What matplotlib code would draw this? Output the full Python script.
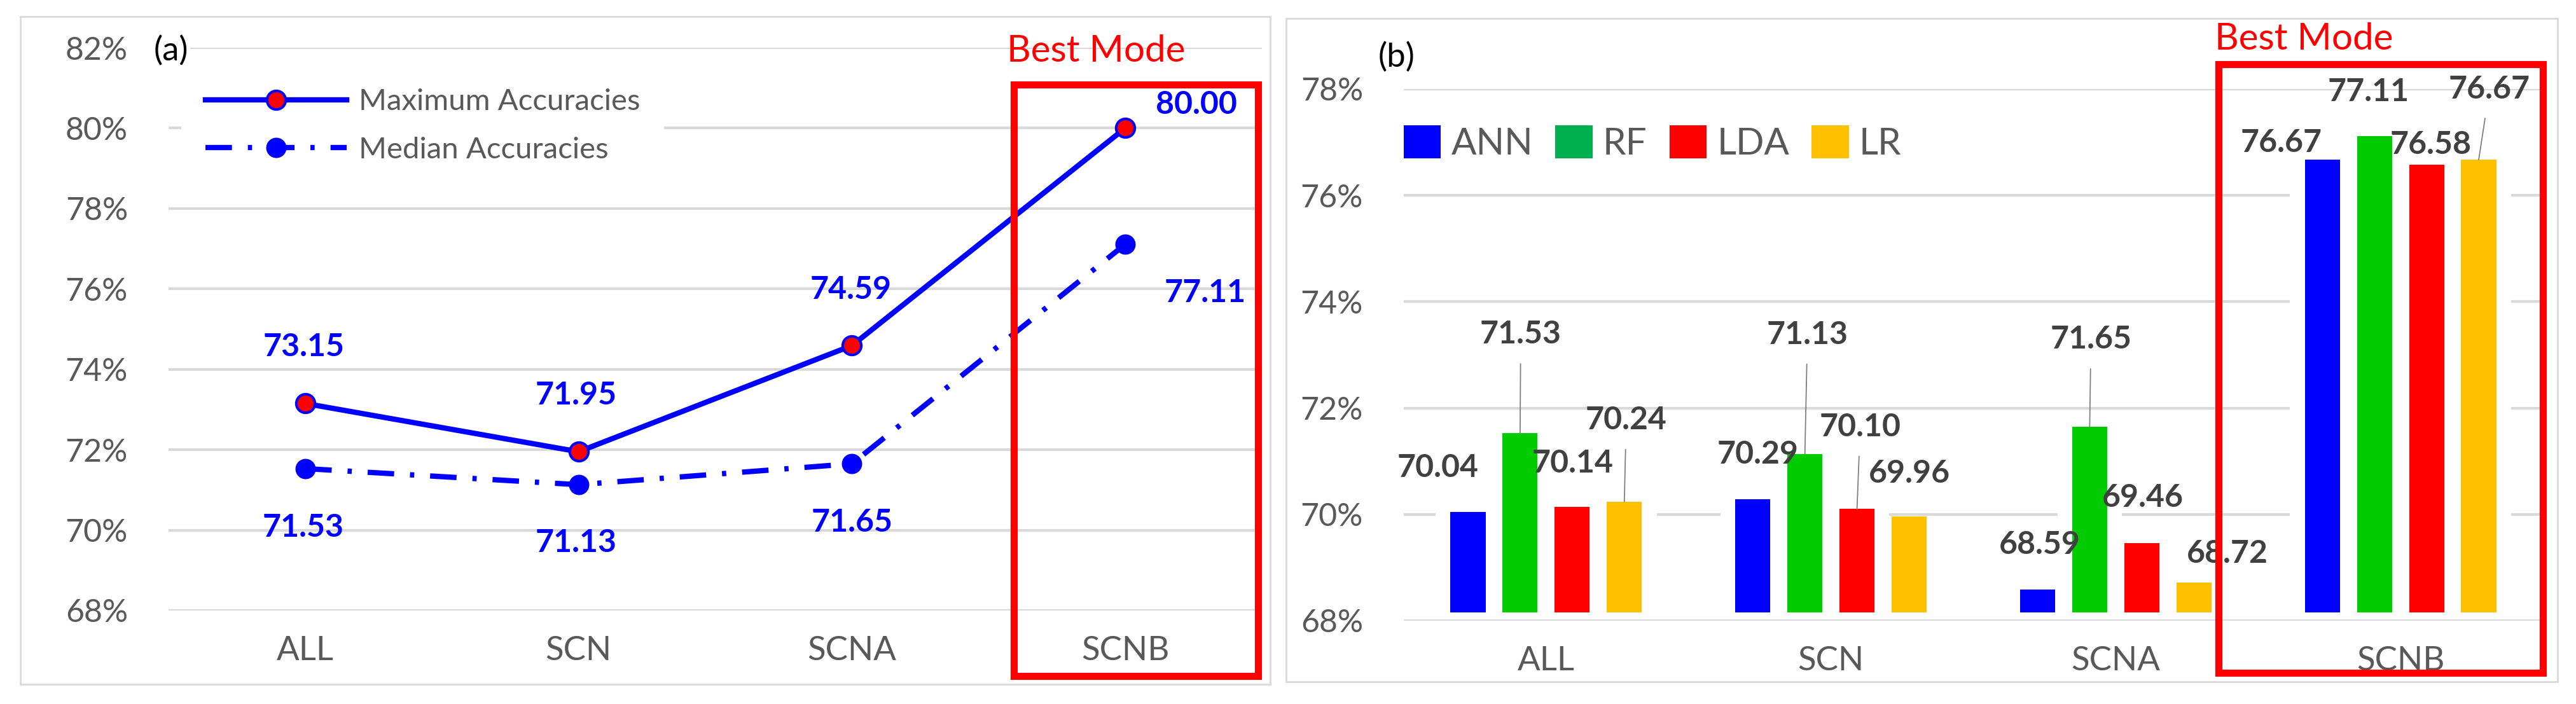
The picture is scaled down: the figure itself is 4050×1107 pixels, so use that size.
import numpy as np
import matplotlib.pyplot as plt
import matplotlib.transforms as mtransforms
from matplotlib.patches import Rectangle, Patch
from matplotlib.ticker import FuncFormatter

plt.rcParams['font.family'] = ['Lato', 'DejaVu Sans']

# ─────────────────────────────────────────
# DATA
# ─────────────────────────────────────────

MODES = ['ALL', 'SCN', 'SCNA', 'SCNB']

# panel (a)
MAX_ACC = [73.15, 71.95, 74.59, 80.00]
MEDIAN_ACC = [71.53, 71.13, 71.65, 77.11]
Y_TICKS_A = [68, 70, 72, 74, 76, 78, 80, 82]

# panel (b)
CLASSIFIERS = ['ANN', 'RF', 'LDA', 'LR']
ANN_ACC = [70.04, 70.29, 68.59, 76.67]
RF_ACC = [71.53, 71.13, 71.65, 77.11]
LDA_ACC = [70.14, 70.10, 69.46, 76.58]
LR_ACC = [70.24, 69.96, 68.72, 76.67]
Y_TICKS_B = [68, 70, 72, 74, 76, 78]

# ─────────────────────────────────────────
# STYLE
# ─────────────────────────────────────────

BLUE = '#0000ff'
RED = '#ff0000'
BAR_COLORS = ['#0000ff', '#00cc00', '#ff0000', '#ffc000']
LEGEND_COLORS = ['#0000ff', '#00b050', '#ff0000', '#ffc000']
GRID = '#d9d9d9'
TICK_GRAY = '#595959'
LABEL_GRAY = '#404040'

W, H = 4050, 1107

# label offsets in pixels (dx, dy up)
MAX_OFFSETS = [(-2, 89), (-4, 89), (-2, 88), (112, 37)]
MED_OFFSETS = [(-3, -93), (-4, -91), (0, -92), (126, -76)]

BAR_OFFSETS = [
    [(-47, 70), (8, 70), (3, 70), (-65, 27)],      # ANN
    [(1, 155), (4, 188), (2, 137), (-9, 70)],      # RF
    [(1, 69), (5, 129), (2, 71), (7, 31)],         # LDA
    [(3, 128), (0, 68), (53, 45), (17, 111)],      # LR
]
LEADERS = [
    [False, False, False, False],
    [True, True, True, False],
    [False, True, False, False],
    [True, False, False, True],
]

BAR_BASE = 68.15
PITCH = 0.183
BAR_W = 0.123
BACK_W = 0.227


def fig_rect(x0, y0, x1, y1):
    """pixel box (top-left origin) -> figure fraction rect"""
    return [x0 / W, 1 - y1 / H, (x1 - x0) / W, (y1 - y0) / H]


def style_axes(ax, yticks):
    ax.set_xlim(-0.5, 3.5)
    ax.set_yticks(yticks)
    ax.yaxis.set_major_formatter(FuncFormatter(lambda v, p: f'{v:.0f}%'))
    ax.set_xticks(np.arange(len(MODES)))
    ax.set_xticklabels(MODES)
    ax.grid(axis='y', color=GRID, linewidth=3)
    ax.set_axisbelow(True)
    for s in ax.spines.values():
        s.set_visible(False)
    ax.tick_params(axis='y', length=0, pad=46, labelsize=36, labelcolor=TICK_GRAY)
    ax.tick_params(axis='x', length=0, pad=29, labelsize=38, labelcolor=TICK_GRAY)


def best_box(ax, x0, x1, y0, y1, tx, ty):
    trans = mtransforms.blended_transform_factory(ax.transData, ax.transAxes)
    ax.add_patch(Rectangle((x0, y0), x1 - x0, y1 - y0, transform=trans, fill=False,
                           edgecolor=RED, linewidth=8, clip_on=False, zorder=6,
                           joinstyle='miter'))
    ax.text(tx, ty, 'Best Mode', transform=trans, color=RED, fontsize=42,
            ha='left', va='center')


fig = plt.figure(figsize=(W / 100, H / 100), dpi=100)

# panel frames
for box in [(32, 26, 1997, 1076), (2022, 29, 4021, 1072)]:
    fig.add_artist(Rectangle(fig_rect(*box)[:2], *fig_rect(*box)[2:],
                             transform=fig.transFigure, fill=False,
                             edgecolor=GRID, linewidth=2))

# ─────────────────────────────────────────
# PANEL (a)
# ─────────────────────────────────────────

ax_a = fig.add_axes(fig_rect(265, 75, 1984, 960))
x = np.arange(len(MODES))
ax_a.plot(x, MAX_ACC, color=BLUE, linewidth=6, marker='o', markersize=21,
          markerfacecolor=RED, markeredgecolor=BLUE, markeredgewidth=3,
          label='Maximum Accuracies', zorder=4)
ax_a.plot(x, MEDIAN_ACC, color=BLUE, linewidth=6, linestyle=(0, (5, 3, 0.8, 3)),
          marker='o', markersize=22, markerfacecolor=BLUE, markeredgecolor=BLUE,
          label='Median Accuracies', zorder=3)
ax_a.set_ylim(68, 82)
style_axes(ax_a, Y_TICKS_A)

for xi, v, off in zip(x, MAX_ACC, MAX_OFFSETS):
    ax_a.annotate(f'{v:.2f}', (xi, v), xytext=off, textcoords='offset pixels',
                  ha='center', va='center', fontsize=36, fontweight='bold', color=BLUE)
for xi, v, off in zip(x, MEDIAN_ACC, MED_OFFSETS):
    ax_a.annotate(f'{v:.2f}', (xi, v), xytext=off, textcoords='offset pixels',
                  ha='center', va='center', fontsize=36, fontweight='bold', color=BLUE)

leg = ax_a.legend(loc='center left', bbox_to_anchor=(0.0116, 0.861), borderaxespad=0,
                  fontsize=34, handlelength=4.7, handletextpad=0.4, labelspacing=0.7,
                  borderpad=0.8, frameon=True, facecolor='white', edgecolor='none',
                  framealpha=1, labelcolor=TICK_GRAY)
leg.get_frame().set_boxstyle('square', pad=0)

ax_a.text(-0.0134, 0.994, '(a)', transform=ax_a.transAxes, fontsize=38,
          ha='left', va='center', color='black',
          bbox=dict(facecolor='white', edgecolor='none', pad=2))

best_box(ax_a, 2.593, 3.486, -0.116, 0.934, 2.567, 0.994)

# ─────────────────────────────────────────
# PANEL (b)
# ─────────────────────────────────────────

ax_b = fig.add_axes(fig_rect(2207, 140, 3998, 976))
series = [ANN_ACC, RF_ACC, LDA_ACC, LR_ACC]
for i, (vals, color) in enumerate(zip(series, BAR_COLORS)):
    xs = x + (i - 1.5) * PITCH
    heights = np.array(vals) - BAR_BASE
    ax_b.bar(xs, heights, bottom=BAR_BASE, width=BACK_W, color='white', zorder=1)
    ax_b.bar(xs, heights, bottom=BAR_BASE, width=BAR_W, color=color, zorder=2)
    for xi, v, off, lead in zip(xs, vals, BAR_OFFSETS[i], LEADERS[i]):
        arrow = dict(arrowstyle='-', color='#7f7f7f', linewidth=1.3,
                     shrinkA=15, shrinkB=0) if lead else None
        ax_b.annotate(f'{v:.2f}', (xi, v), xytext=off, textcoords='offset pixels',
                      ha='center', va='center', fontsize=36, fontweight='bold',
                      color=LABEL_GRAY, arrowprops=arrow, zorder=5,
                      annotation_clip=False)

ax_b.set_ylim(68, 78)
style_axes(ax_b, Y_TICKS_B)

handles = [Patch(facecolor=c, edgecolor='none') for c in LEGEND_COLORS]
ax_b.legend(handles, CLASSIFIERS, loc='center left', bbox_to_anchor=(0, 0.898),
            borderaxespad=0, borderpad=0, ncol=4, fontsize=42, handlelength=1.0,
            handleheight=1.0, handletextpad=0.28, columnspacing=0.6,
            frameon=False, labelcolor=TICK_GRAY)

ax_b.text(-0.0223, 1.06, '(b)', transform=ax_b.transAxes, fontsize=38,
          ha='left', va='center', color='black')

best_box(ax_b, 2.36, 3.50, -0.098, 1.047, 2.347, 1.094)

fig.savefig('out.png', dpi=100)
